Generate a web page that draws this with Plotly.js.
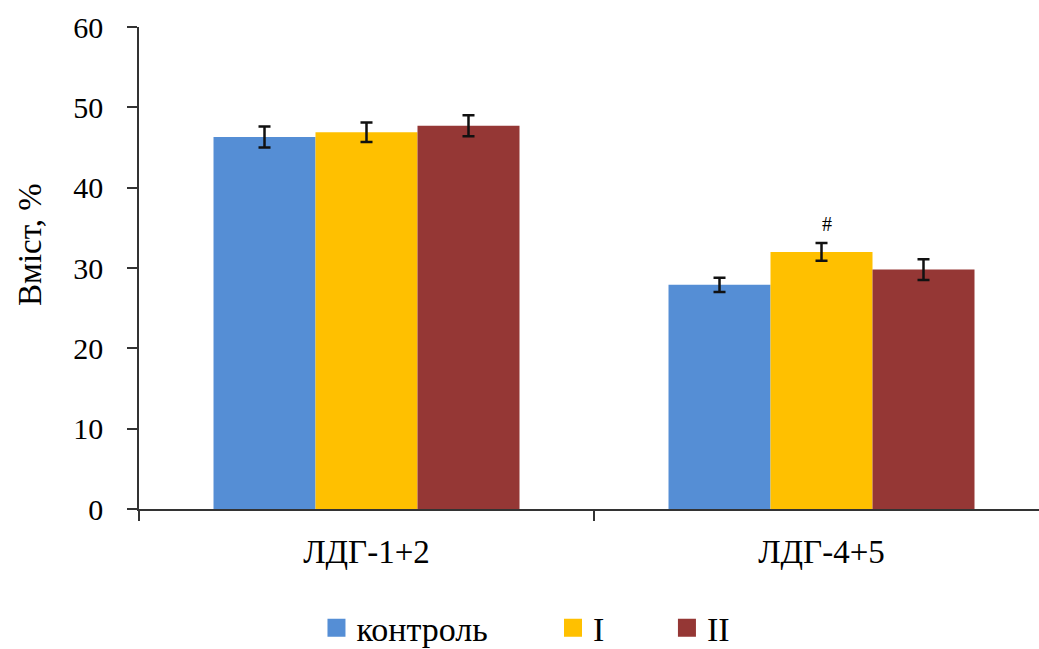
<!DOCTYPE html>
<html>
<head>
<meta charset="utf-8">
<script src="https://cdn.plot.ly/plotly-3.0.1.min.js"></script>
<style>
  html, body { margin: 0; padding: 0; background: #ffffff; }
  #chart { width: 1039px; height: 649px; }
</style>
</head>
<body>
<div id="chart"></div>
<script>
// LDH isoenzyme fractions, content in %
const categories = ['ЛДГ-1+2', 'ЛДГ-4+5'];
const seriesNames = ['контроль', 'I', 'II'];
const controlValues = [46.3, 27.9];
const groupIValues = [46.9, 32.0];
const groupIIValues = [47.7, 29.8];
const controlErrors = [1.3, 0.9];
const groupIErrors = [1.2, 1.1];
const groupIIErrors = [1.3, 1.3];
const yTickValues = [0, 10, 20, 30, 40, 50, 60];
const yTitle = 'Вміст, %';
const significanceMark = '#';

const colors = ['#558ED5', '#FFC000', '#953735'];
const serif = '"Liberation Serif", "Times New Roman", serif';

const values = [controlValues, groupIValues, groupIIValues];
const errors = [controlErrors, groupIErrors, groupIIErrors];
const legendIds = ['legend', 'legend2', 'legend3'];

const traces = [];
values.forEach((vals, i) => {
  traces.push({
    type: 'bar',
    name: seriesNames[i],
    x: categories,
    y: vals,
    marker: { color: colors[i], line: { width: 0 } },
    error_y: {
      type: 'data',
      array: errors[i],
      visible: true,
      color: '#111111',
      thickness: 2.5,
      width: 6
    },
    showlegend: false,
    hoverinfo: 'x+y+name'
  });
});

// legend swatches (one legend per series so each key sits at its own spot)
values.forEach((vals, i) => {
  traces.push({
    type: 'scatter',
    mode: 'markers',
    name: seriesNames[i],
    x: [null],
    y: [null],
    marker: { symbol: 'square', size: 16, color: colors[i], line: { width: 2, color: colors[i] } },
    legend: legendIds[i],
    showlegend: true,
    hoverinfo: 'skip'
  });
});

const legendBase = {
  orientation: 'h',
  xanchor: 'left',
  yanchor: 'middle',
  y: -0.247,
  bgcolor: 'rgba(0,0,0,0)',
  borderwidth: 0,
  font: { family: serif, size: 34, color: '#000000' }
};

const layout = {
  width: 1039,
  height: 649,
  margin: { l: 139, r: 0, t: 27, b: 140, autoexpand: false },
  paper_bgcolor: '#ffffff',
  plot_bgcolor: '#ffffff',
  barmode: 'group',
  bargap: 0.3275,
  bargroupgap: 0,
  font: { family: serif, color: '#000000' },
  xaxis: {
    type: 'category',
    categoryorder: 'array',
    categoryarray: categories,
    range: [-0.5, 1.478],
    showline: true,
    linecolor: '#333333',
    linewidth: 1.8,
    ticks: 'outside',
    tickson: 'boundaries',
    ticklen: 10,
    tickwidth: 1.8,
    tickcolor: '#333333',
    ticklabelstandoff: 13,
    tickfont: { family: serif, size: 33, color: '#000000' },
    showgrid: false,
    zeroline: false,
    fixedrange: true
  },
  yaxis: {
    range: [0, 60],
    tickvals: yTickValues,
    ticktext: yTickValues.map(String),
    showline: true,
    linecolor: '#333333',
    linewidth: 1.8,
    ticks: 'outside',
    ticklen: 10,
    tickwidth: 1.8,
    tickcolor: '#333333',
    ticklabelstandoff: 18,
    tickfont: { family: serif, size: 30, color: '#000000' },
    showgrid: false,
    zeroline: false,
    fixedrange: true
  },
  legend: Object.assign({}, legendBase, { x: 0.1972 }),
  legend2: Object.assign({}, legendBase, { x: 0.4600 }),
  legend3: Object.assign({}, legendBase, { x: 0.5866 }),
  annotations: [
    {
      // y-axis title, set slightly above the axis midpoint
      x: -0.121,
      y: 0.548,
      xref: 'paper',
      yref: 'paper',
      text: yTitle,
      textangle: -90,
      showarrow: false,
      xanchor: 'center',
      yanchor: 'middle',
      font: { family: serif, size: 33, color: '#000000' }
    },
    {
      x: categories[1],
      y: groupIValues[1] + groupIErrors[1],
      xref: 'x',
      yref: 'y',
      text: significanceMark,
      showarrow: false,
      yanchor: 'bottom',
      yshift: 6,
      xshift: 5,
      font: { family: serif, size: 20, color: '#000000' }
    }
  ],
  showlegend: true
};

Plotly.newPlot('chart', traces, layout, { displayModeBar: false, staticPlot: true });
</script>
</body>
</html>
